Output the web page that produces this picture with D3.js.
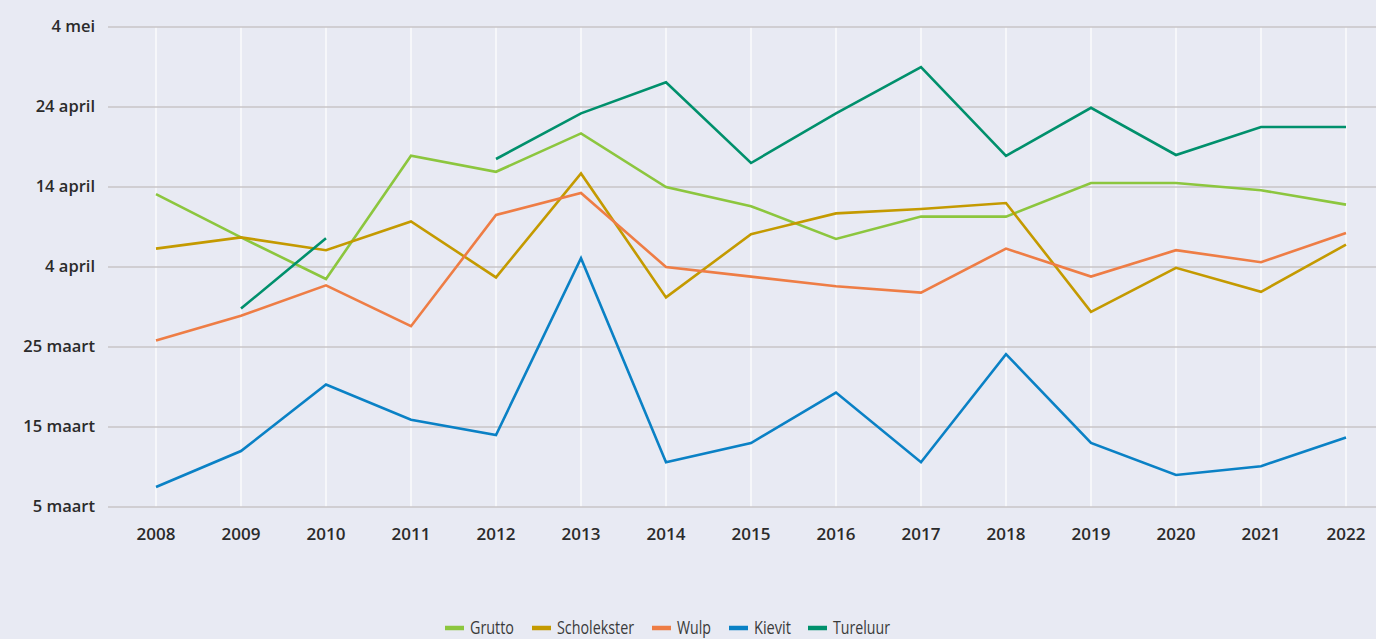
<!DOCTYPE html>
<meta charset="utf-8">
<head>
  <title>Aankomst weidevogels</title>
</head>
<style>
body {
  margin: 0;
  background: #e8eaf3;
  font-family: "Open Sans", "Noto Sans", sans-serif;
  color: #2b2b2b;
}
svg { display: block; }
.ylab, .xlab { font-weight: 600; fill: #2b2b2b; }
.ylab { font-size: 16.5px; }
.xlab { font-size: 17px; }
.leg { font-size: 19px; fill: #3a3a3a; }
</style>
<body>
<script src="https://cdnjs.cloudflare.com/ajax/libs/d3/7.8.5/d3.min.js"></script>
<script>

// Values are day numbers counted from 1 maart (1 maart = 1, 1 april = 32, 1 mei = 62)
var years = [2008, 2009, 2010, 2011, 2012, 2013, 2014, 2015, 2016, 2017, 2018, 2019, 2020, 2021, 2022];

var grutto      = [44.1, 38.7, 33.5, 48.9, 46.9, 51.7, 45.0, 42.6, 38.5, 41.3, 41.3, 45.5, 45.5, 44.6, 42.8];
var scholekster = [37.3, 38.7, 37.1, 40.7, 33.7, 46.7, 31.2, 39.1, 41.7, 42.25, 43.0, 29.4, 34.9, 31.9, 37.8];
var wulp        = [25.8, 28.9, 32.7, 27.6, 41.5, 44.25, 35.0, 33.8, 32.6, 31.8, 37.3, 33.8, 37.1, 35.6, 39.25];
var kievit      = [7.5, 12.0, 20.3, 15.9, 14.0, 36.1, 10.6, 13.0, 19.3, 10.6, 24.1, 13.0, 9.0, 10.1, 13.7];
var tureluur    = [null, 29.8, 38.6, null, 48.5, 54.2, 58.1, 48.0, 54.2, 60.0, 48.9, 54.9, 49.0, 52.5, 52.5];

var seriesNames = ["Grutto", "Scholekster", "Wulp", "Kievit", "Tureluur"];
var seriesData = [grutto, scholekster, wulp, kievit, tureluur];
var colors = ["#8cc63e", "#c49a00", "#ee7d45", "#0a81c5", "#00906c"];

var yTicks = [5, 15, 25, 35, 45, 55, 65];

var w = 1376, h = 639;

function dayLabel(v) {
  if (v <= 31) return v + " maart";
  if (v <= 61) return (v - 31) + " april";
  return (v - 61) + " mei";
}

var svg = d3.select("body").append("svg")
  .attr("width", w)
  .attr("height", h);

var x = d3.scaleLinear().domain([2008, 2022]).range([156, 1346]);
var y = d3.scaleLinear().domain([5, 65]).range([507, 27]);

// vertical white gridlines
svg.append("g").selectAll("line")
  .data(years)
  .enter().append("line")
  .attr("x1", function(d) { return x(d); })
  .attr("x2", function(d) { return x(d); })
  .attr("y1", y(65))
  .attr("y2", y(5))
  .attr("stroke", "#ffffff")
  .attr("stroke-width", 1.2);

// horizontal gridlines
svg.append("g").selectAll("line")
  .data(yTicks)
  .enter().append("line")
  .attr("x1", 108)
  .attr("x2", w)
  .attr("y1", function(d) { return y(d); })
  .attr("y2", function(d) { return y(d); })
  .attr("stroke", "#c8c4c7")
  .attr("stroke-width", 1.6);

// y labels
svg.append("g").selectAll("text")
  .data(yTicks)
  .enter().append("text")
  .attr("class", "ylab")
  .attr("x", 95)
  .attr("y", function(d) { return y(d); })
  .attr("dy", "0.3em")
  .attr("text-anchor", "end")
  .text(dayLabel);

// x labels
svg.append("g").selectAll("text")
  .data(years)
  .enter().append("text")
  .attr("class", "xlab")
  .attr("x", function(d) { return x(d); })
  .attr("y", 534)
  .attr("dy", "0.35em")
  .attr("text-anchor", "middle")
  .text(function(d) { return d; });

var line = d3.line()
  .defined(function(d) { return d != null; })
  .x(function(d, i) { return x(years[i]); })
  .y(function(d) { return y(d); });

svg.append("g").selectAll("path")
  .data(seriesData)
  .enter().append("path")
  .attr("d", line)
  .attr("fill", "none")
  .attr("stroke", function(d, i) { return colors[i]; })
  .attr("stroke-width", 2.6)
  .attr("stroke-linejoin", "miter");

// legend
var legendX = [445, 532, 652, 729, 808];
var legendW = [44, 77, 34, 37, 57];
var leg = svg.append("g").selectAll("g")
  .data(seriesNames)
  .enter().append("g")
  .attr("transform", function(d, i) { return "translate(" + legendX[i] + ",628)"; });

leg.append("line")
  .attr("x1", 0).attr("x2", 19)
  .attr("stroke", function(d, i) { return colors[i]; })
  .attr("stroke-width", 4.5);

leg.append("text")
  .attr("class", "leg")
  .attr("x", 25)
  .attr("y", 6)
  .attr("textLength", function(d, i) { return legendW[i]; })
  .attr("lengthAdjust", "spacingAndGlyphs")
  .text(function(d) { return d; });

</script>
</body>
</html>
